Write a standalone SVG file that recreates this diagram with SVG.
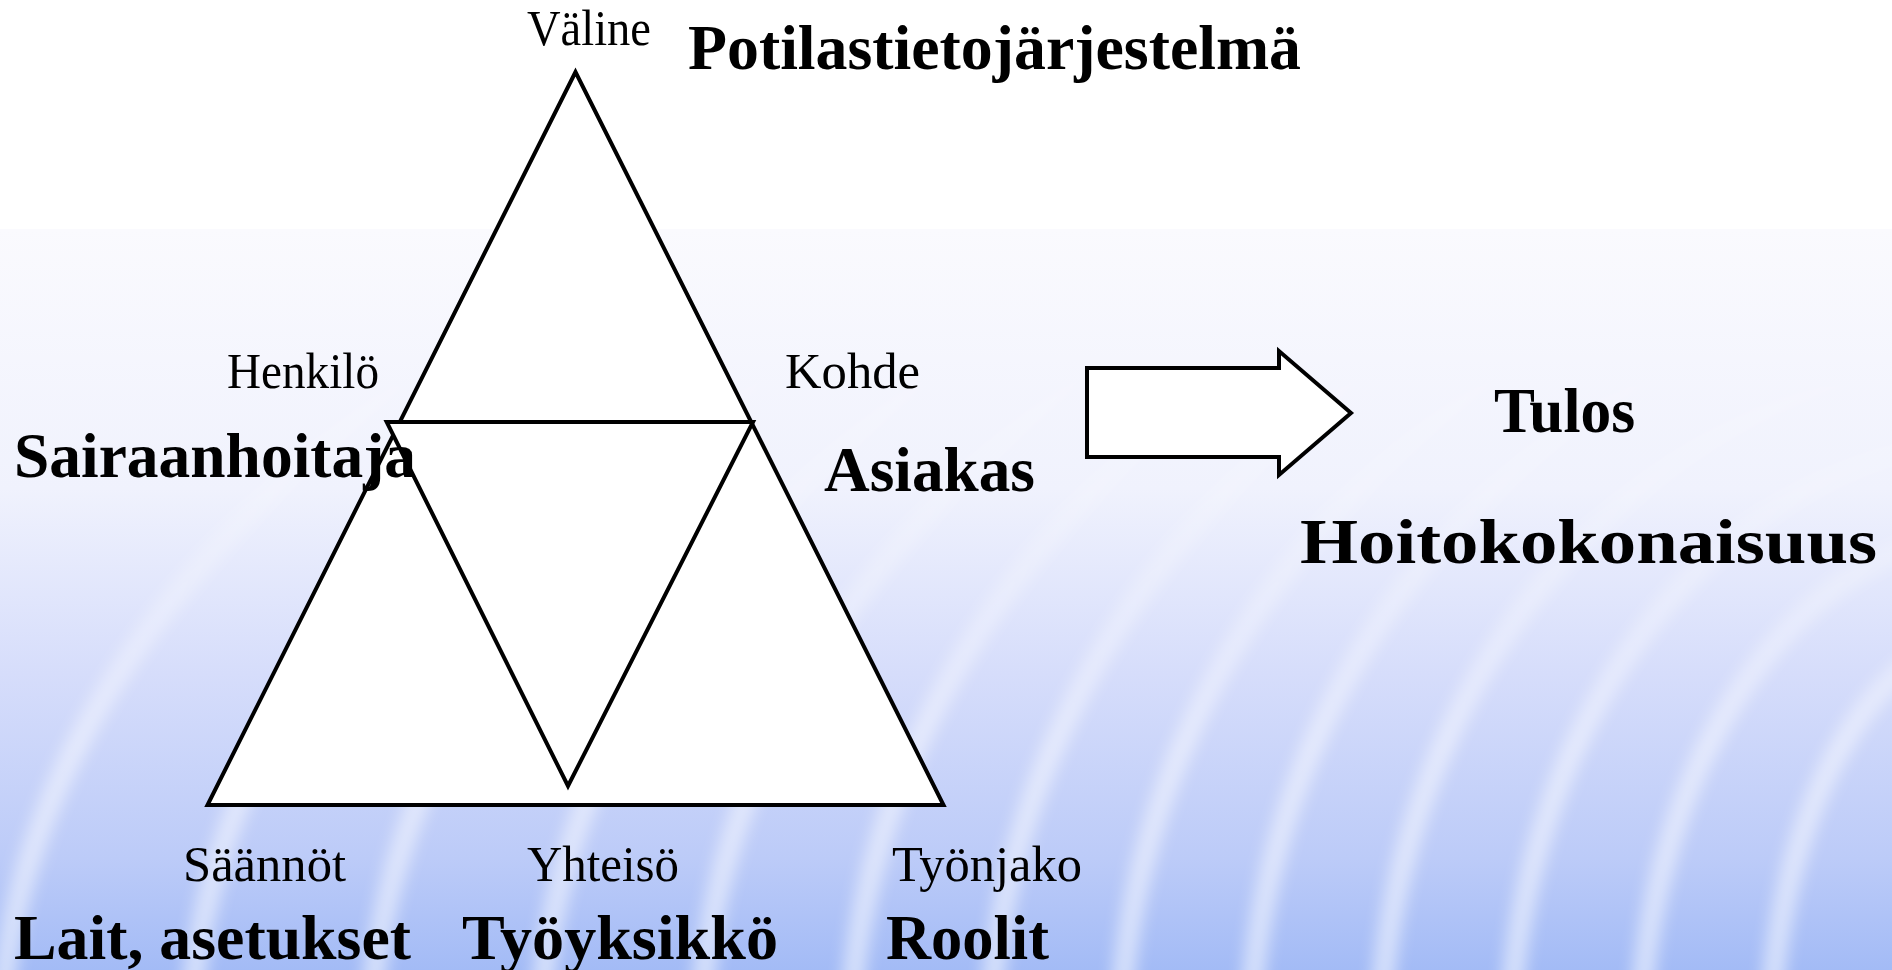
<svg xmlns="http://www.w3.org/2000/svg" width="1892" height="970" viewBox="0 0 1892 970">
<defs>
<style>
.shape{fill:#ffffff;stroke:#000000;stroke-width:4;stroke-linejoin:miter}
.lbl{font-family:"Liberation Serif","Times New Roman",serif;font-size:50px;fill:#000}
.big{font-family:"Liberation Serif","Times New Roman",serif;font-size:64px;font-weight:bold;fill:#000}
</style>
<linearGradient id="bg" x1="0" y1="229" x2="0" y2="970" gradientUnits="userSpaceOnUse">
<stop offset="0" stop-color="#fafafe"/>
<stop offset="0.35" stop-color="#f0f2fd"/>
<stop offset="0.6" stop-color="#d6ddfb"/>
<stop offset="0.85" stop-color="#bccbf8"/>
<stop offset="1" stop-color="#a3bbf6"/>
</linearGradient>
<linearGradient id="fade" x1="0" y1="229" x2="0" y2="970" gradientUnits="userSpaceOnUse">
<stop offset="0" stop-color="#fff" stop-opacity="0"/>
<stop offset="0.35" stop-color="#fff" stop-opacity="0.3"/>
<stop offset="0.7" stop-color="#fff" stop-opacity="0.9"/>
<stop offset="1" stop-color="#fff" stop-opacity="1"/>
</linearGradient>
<mask id="rm"><rect x="0" y="229" width="1892" height="741" fill="url(#fade)"/></mask>
<filter id="blur" x="-10%" y="-10%" width="120%" height="120%"><feGaussianBlur stdDeviation="8"/></filter>
</defs>
<rect x="0" y="0" width="1892" height="970" fill="#ffffff"/>
<rect x="0" y="229" width="1892" height="741" fill="url(#bg)"/>
<g mask="url(#rm)" filter="url(#blur)" fill="none" stroke="#ffffff" stroke-opacity="0.55" stroke-width="22">
<ellipse cx="2000" cy="1050" rx="230" ry="420"/>
<ellipse cx="2000" cy="1050" rx="360" ry="520"/>
<ellipse cx="2000" cy="1050" rx="490" ry="610"/>
<ellipse cx="2000" cy="1050" rx="620" ry="690"/>
<ellipse cx="2000" cy="1050" rx="750" ry="760"/>
<ellipse cx="2000" cy="1050" rx="880" ry="820"/>
<ellipse cx="2000" cy="1050" rx="1010" ry="870"/>
<ellipse cx="2000" cy="1050" rx="1150" ry="910"/>
<ellipse cx="2000" cy="1050" rx="1300" ry="950"/>
<ellipse cx="2000" cy="1050" rx="1460" ry="990"/>
<ellipse cx="2000" cy="1050" rx="1630" ry="1030"/>
<ellipse cx="2000" cy="1050" rx="1810" ry="1070"/>
<ellipse cx="2000" cy="1050" rx="2000" ry="1110"/>
</g>

<g id="connectors">
<polygon id="outer-triangle" class="shape" points="575.5,72 207.5,805 943.5,805"/>
<polygon id="inner-triangle" class="shape" points="386.7,422 753,422 568,786"/>
<polygon id="arrow" class="shape" stroke-width="5" points="1087,368 1279,368 1279,351 1351,413 1279,475 1279,457 1087,457"/>
</g>

<g id="node-valine"><text class="lbl" x="527" y="45" textLength="124" lengthAdjust="spacingAndGlyphs">Väline</text></g>
<g id="node-potilas"><text class="big" x="688" y="69" textLength="613" lengthAdjust="spacingAndGlyphs">Potilastietojärjestelmä</text></g>
<g id="node-henkilo"><text class="lbl" x="227" y="388" textLength="152" lengthAdjust="spacingAndGlyphs">Henkilö</text></g>
<g id="node-sairaanhoitaja"><text class="big" x="14" y="477" textLength="402" lengthAdjust="spacingAndGlyphs">Sairaanhoitaja</text></g>
<g id="node-kohde"><text class="lbl" x="785" y="388" textLength="135" lengthAdjust="spacingAndGlyphs">Kohde</text></g>
<g id="node-asiakas"><text class="big" x="824" y="491" textLength="211" lengthAdjust="spacingAndGlyphs">Asiakas</text></g>
<g id="node-tulos"><text class="big" x="1494" y="432" font-size="60" textLength="141" lengthAdjust="spacingAndGlyphs">Tulos</text></g>
<g id="node-hoito"><text class="big" x="1300" y="563" font-size="74" textLength="577" lengthAdjust="spacingAndGlyphs">Hoitokokonaisuus</text></g>
<g id="node-saannot"><text class="lbl" x="183" y="881" textLength="163" lengthAdjust="spacingAndGlyphs">Säännöt</text></g>
<g id="node-lait"><text class="big" x="14" y="959" textLength="397" lengthAdjust="spacingAndGlyphs">Lait, asetukset</text></g>
<g id="node-yhteiso"><text class="lbl" x="527" y="881" textLength="152" lengthAdjust="spacingAndGlyphs">Yhteisö</text></g>
<g id="node-tyoyksikko"><text class="big" x="462" y="959" textLength="316" lengthAdjust="spacingAndGlyphs">Työyksikkö</text></g>
<g id="node-tyonjako"><text class="lbl" x="892" y="881" textLength="190" lengthAdjust="spacingAndGlyphs">Työnjako</text></g>
<g id="node-roolit"><text class="big" x="886" y="959" textLength="163" lengthAdjust="spacingAndGlyphs">Roolit</text></g>
</svg>
